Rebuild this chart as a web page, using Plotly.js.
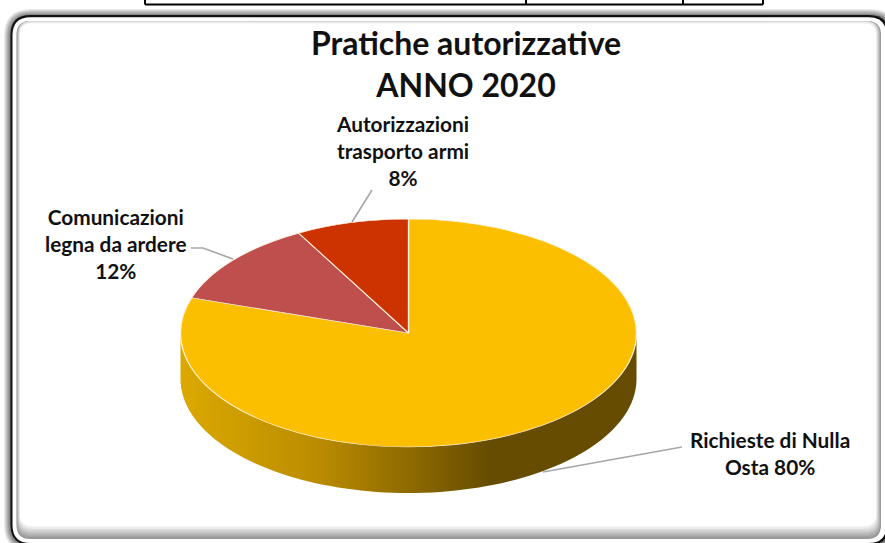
<!DOCTYPE html>
<html>
<head>
<meta charset="utf-8">
<script src="https://cdn.plot.ly/plotly-3.0.1.min.js"></script>
<style>html,body{margin:0;padding:0;background:#fff;overflow:hidden}#chart{width:885px;height:543px}</style>
</head>
<body>
<div id="chart"></div>
<script>
const categories = ['Richieste di Nulla Osta', 'Comunicazioni legna da ardere', 'Autorizzazioni trasporto armi'];
const values = [80, 12, 8];
const sliceColors = ['#FCBF00', '#BE4F4C', '#CC3300'];
const titleText = 'Pratiche autorizzative<br>ANNO 2020';
const labelTexts = ['Richieste di Nulla<br>Osta 80%', 'Comunicazioni<br>legna da ardere<br>12%', 'Autorizzazioni<br>trasporto armi<br>8%'];

const W = 885, H = 543;
const cx = 408.5, cy = 333, rx = 228, ry = 114, depth = 46;
const FONT = 'Lato, Carlito, sans-serif';

// pie is drawn round, then its layer is flattened to the ellipse
const pieCy = H / 2;

function lerp(a, b, t) { return a + (b - a) * t; }
function rr(l, t, r, b, c) {
  return `M${l + c},${t} L${r - c},${t} Q${r},${t} ${r},${t + c} L${r},${b - c} Q${r},${b} ${r - c},${b} L${l + c},${b} Q${l},${b} ${l},${b - c} L${l},${t + c} Q${l},${t} ${l + c},${t} Z`;
}
function gray(v, a) { return `rgba(${v},${v},${v},${a === undefined ? 1 : a})`; }

const shapes = [];
// soft outer shadow
for (let i = 0; i < 8; i++) {
  const t = i / 7, o = lerp(7, 0.5, t);
  shapes.push({type: 'path', layer: 'below', xref: 'x', yref: 'y',
    path: rr(11 - o, 16 - o, 890 + o, 545 + o, 20 + o),
    fillcolor: gray(Math.round(lerp(235, 110, t))), line: {width: 0}});
}
// black rim and white band
shapes.push({type: 'path', layer: 'below', xref: 'x', yref: 'y', path: rr(10.5, 15, 889, 545, 20), fillcolor: '#111', line: {width: 0}});
shapes.push({type: 'path', layer: 'below', xref: 'x', yref: 'y', path: rr(12.5, 17.2, 886.5, 543, 18), fillcolor: '#fff', line: {width: 0}});
// inner bevel, thicker along the bottom
for (let i = 0; i < 10; i++) {
  const t = i / 9;
  const top = t < 0.6 ? 21 : lerp(21, 23.5, (t - 0.6) / 0.4);
  shapes.push({type: 'path', layer: 'below', xref: 'x', yref: 'y',
    path: rr(lerp(16.5, 20, t), top, lerp(881, 876, t), lerp(539, 526, t), lerp(14, 12, t)),
    fillcolor: gray(Math.round(lerp(150, 255, t))), line: {width: 0}});
}
// fragment of the table above the chart
const tableLine = {color: '#000', width: 2};
shapes.push({type: 'line', layer: 'below', xref: 'x', yref: 'y', x0: 145, x1: 763, y0: 4.5, y1: 4.5, line: tableLine});
[145, 526, 683, 763].forEach(x => shapes.push({type: 'line', layer: 'below', xref: 'x', yref: 'y', x0: x, x1: x, y0: 0, y1: 4.5, line: tableLine}));

// side wall outline
const wallX = [], wallY = [];
for (let a = 180; a >= 0; a -= 2) {
  wallX.push(cx + rx * Math.cos(a * Math.PI / 180));
  wallY.push(cy + ry * Math.sin(a * Math.PI / 180) + depth);
}
for (let a = 0; a <= 180; a += 2) {
  wallX.push(cx + rx * Math.cos(a * Math.PI / 180));
  wallY.push(cy + ry * Math.sin(a * Math.PI / 180) - 4);
}

const leader = {color: '#A6A6A6', width: 1.6};
const traces = [
  {type: 'scatter', mode: 'none', x: wallX, y: wallY, fill: 'toself', hoverinfo: 'skip', showlegend: false,
   fillcolor: '#8a6a00',
   fillgradient: {type: 'horizontal', colorscale: [[0, '#DBA900'], [0.3, '#BB8C00'], [0.68, '#664C00'], [1, '#664C00']]}},
  {type: 'scatter', mode: 'lines', x: [372, 352], y: [190, 222], line: leader, hoverinfo: 'skip', showlegend: false},
  {type: 'scatter', mode: 'lines', x: [191, 203, 233], y: [248, 248, 259], line: leader, hoverinfo: 'skip', showlegend: false},
  {type: 'scatter', mode: 'lines', x: [543, 682], y: [472, 447], line: leader, hoverinfo: 'skip', showlegend: false},
  {type: 'pie', labels: categories, values: values, sort: false, direction: 'clockwise', rotation: 0,
   marker: {colors: sliceColors, line: {color: '#FFF4E0', width: 1.3}},
   textinfo: 'none', hoverinfo: 'label+percent', showlegend: false,
   domain: {x: [(cx - rx) / W, (cx + rx) / W], y: [(pieCy - rx) / H, (pieCy + rx) / H]}}
];

function lab(text, x, y) {
  return {text: text, xref: 'x', yref: 'y', x: x, y: y, xanchor: 'center', yanchor: 'middle', showarrow: false, align: 'center',
    font: {family: FONT, size: 20.8, color: '#111', weight: 700}};
}

const layout = {
  width: W, height: H, margin: {l: 0, r: 0, t: 0, b: 0},
  paper_bgcolor: '#fff', plot_bgcolor: 'rgba(0,0,0,0)', showlegend: false,
  title: {text: titleText, x: 466 / W, xanchor: 'center', y: 1 - 55 / H, yanchor: 'top',
          font: {family: FONT, size: 32, color: '#111', weight: 700}},
  xaxis: {range: [0, W], visible: false, fixedrange: true},
  yaxis: {range: [H, 0], visible: false, fixedrange: true},
  shapes: shapes,
  annotations: [lab(labelTexts[0], 770, 453), lab(labelTexts[1], 116, 243), lab(labelTexts[2], 402, 150)]
};

function flatten() {
  const g = document.querySelector('#chart .pielayer');
  if (g) g.setAttribute('transform', `translate(0,${cy - pieCy * (ry / rx)}) scale(1,${ry / rx})`);
}
const gd = document.getElementById('chart');
Plotly.newPlot(gd, traces, layout, {displayModeBar: false}).then(() => {
  flatten();
  gd.on('plotly_afterplot', flatten);
});
</script>
</body>
</html>
